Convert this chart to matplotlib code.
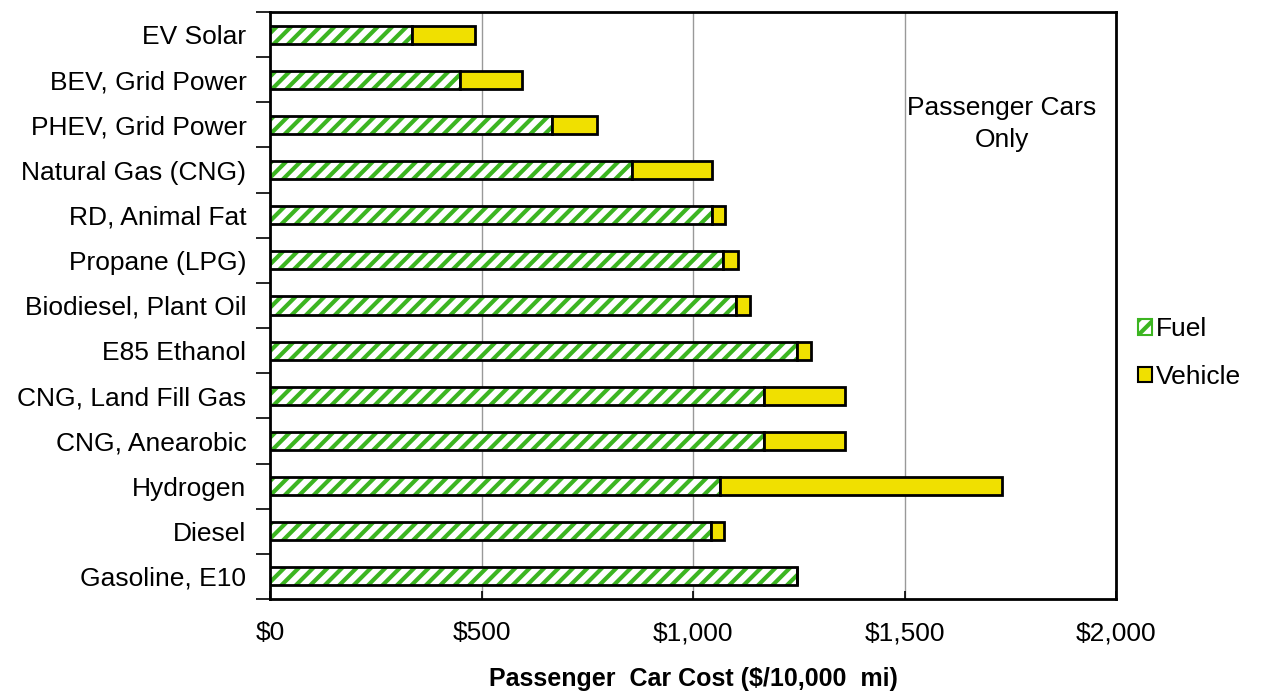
import matplotlib
matplotlib.use("Agg")
import matplotlib.pyplot as plt
from matplotlib.patches import Patch
import numpy as np

categories = ["EV Solar", "BEV, Grid Power", "PHEV, Grid Power", "Natural Gas (CNG)",
              "RD, Animal Fat", "Propane (LPG)", "Biodiesel, Plant Oil", "E85 Ethanol",
              "CNG, Land Fill Gas", "CNG, Anearobic", "Hydrogen", "Diesel", "Gasoline, E10"]
fuel = [336, 449, 667, 856, 1045, 1071, 1102, 1246, 1168, 1168, 1064, 1043, 1246]
vehicle = [149, 147, 106, 189, 31, 35, 33, 33, 191, 191, 666, 30, 0]
xticks = [0, 500, 1000, 1500, 2000]
xticklabels = ["$0", "$500", "$1,000", "$1,500", "$2,000"]

DPI = 130
S = 100.0 / DPI  # convert "100-dpi points" to real points

plt.rcParams['font.family'] = ['Liberation Sans', 'DejaVu Sans']
plt.rcParams['hatch.linewidth'] = 3.0 * S

fig = plt.figure(figsize=(1262 / DPI, 694 / DPI), dpi=DPI)
ax = fig.add_axes([270/1262, 1-599/694, (1116-270)/1262, (599-12)/694])

y = np.arange(len(categories))
h = 0.4
green = "#3cb521"
yellow = "#f0e000"
ax.barh(y, fuel, height=h, color="white", edgecolor=green, hatch="///", linewidth=0, zorder=3)
ax.barh(y, fuel, height=h, fill=False, edgecolor="black", linewidth=2*S, zorder=4)
ax.barh(y, vehicle, left=fuel, height=h, color=yellow, edgecolor="black", linewidth=2*S, zorder=4)

fs = 19 * S
ax.set_xlim(0, 2000)
ax.set_ylim(len(categories) - 0.5, -0.5)
ax.set_xticks(xticks)
ax.set_xticklabels(xticklabels, fontsize=fs)
ax.set_yticks(y)
ax.set_yticklabels(categories, fontsize=fs)
ax.set_yticks(np.arange(len(categories) + 1) - 0.5, minor=True)
ax.tick_params(axis='y', which='major', length=0, pad=17*S)
ax.tick_params(axis='y', which='minor', length=10*S, width=1.2*S, direction='out')
ax.tick_params(axis='x', which='major', length=6*S, width=1.2*S, direction='in', pad=16*S)
ax.grid(axis='x', color='#999999', linewidth=1*S, zorder=0)
for s in ax.spines.values():
    s.set_linewidth(2*S)

ax.set_xlabel("Passenger  Car Cost ($/10,000  mi)", fontsize=18*S, fontweight='bold', labelpad=16*S)
ax.text(1730, 1.98, "Passenger Cars\nOnly", fontsize=fs, ha='center', va='center', linespacing=1.4)

handles = [Patch(facecolor="white", edgecolor=green, hatch="///", linewidth=1.5*S, label="Fuel"),
           Patch(facecolor=yellow, edgecolor="black", linewidth=1.5*S, label="Vehicle")]
leg = fig.legend(handles=handles, loc='center left', bbox_to_anchor=(1114/1262, 1-353/694),
                 frameon=False, fontsize=fs, handlelength=0.55, handleheight=0.55,
                 handletextpad=0.15, labelspacing=0.9)

fig.savefig("out.png", dpi=DPI)
